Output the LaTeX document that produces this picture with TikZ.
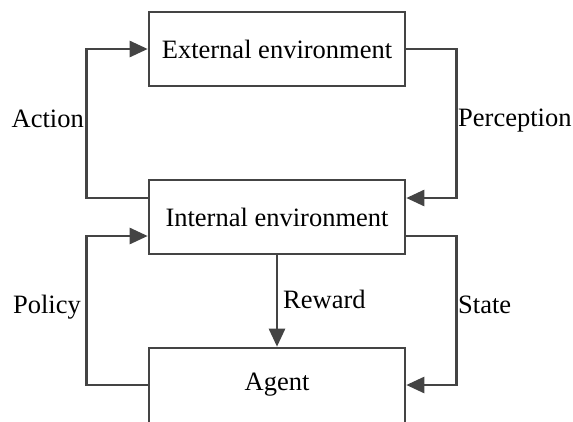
\documentclass[tikz,border=0pt]{standalone}
\usepackage{fontspec}
\setmainfont{Liberation Serif}
\usetikzlibrary{arrows.meta,positioning}
\definecolor{linegray}{HTML}{444444}

\begin{document}
\begin{tikzpicture}[x=1pt,y=-1pt,
    box/.style={draw=linegray, line width=2.6pt, minimum width=256pt, minimum height=74pt,
        inner sep=0pt, font=\fontsize{26.5}{30}\selectfont},
    lbl/.style={inner sep=0pt, font=\fontsize{26.5}{30}\selectfont},
    flow/.style={draw=linegray, line width=2.6pt, -{Triangle[length=18pt,width=16pt]}}]
\useasboundingbox (0,0) rectangle (573,421);
% boxes
\node[box] (ext) at (277,49) {External environment};
\node[box] (int) at (277,217) {Internal environment};
\node[box, minimum height=82pt, text depth=13.6pt] (agent) at (277,389) {Agent};
% upper loop
\draw[flow] ([yshift=19pt]int.west) -- ++(-61,0) |- (ext.west);
\draw[flow] (ext.east) -- ++(50,0) |- ([yshift=19pt]int.east);
% lower loop
\draw[flow] ([yshift=4pt]agent.west) -- ++(-61,0) |- ([yshift=-19pt]int.west);
\draw[flow] ([yshift=-19pt]int.east) -- ++(50,0) |- ([yshift=4pt]agent.east);
\draw[flow] (int.south) -- (agent.north);
% labels
\node[lbl, anchor=base east] (action) at (84,127) {Action};
\node[lbl, anchor=base west] (perception) at (458,126) {Perception};
\node[lbl, anchor=base east] (policy) at (81,313) {Policy};
\node[lbl, anchor=base west] (state) at (458,313) {State};
\node[lbl, anchor=base west] (reward) at (283,308) {Reward};
\end{tikzpicture}
\end{document}
